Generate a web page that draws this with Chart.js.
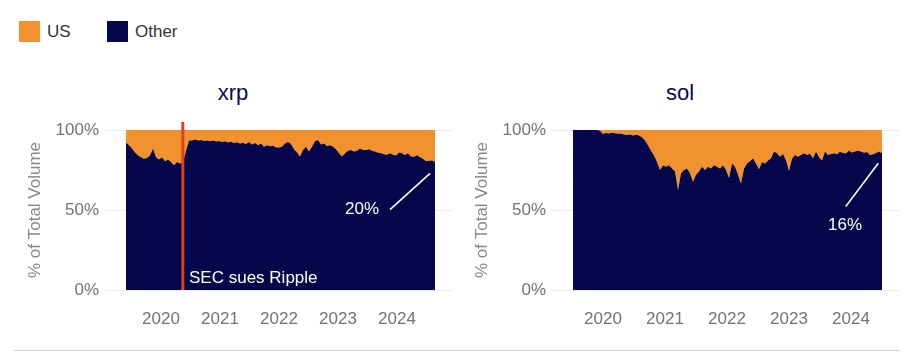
<!DOCTYPE html>
<html><head><meta charset="utf-8">
<script src="https://cdn.jsdelivr.net/npm/chart.js@4"></script>
<style>
html,body{margin:0;padding:0;background:#fff;width:908px;height:356px;overflow:hidden;font-family:"Liberation Sans",Arial,sans-serif;}
.wrap{position:absolute;top:0;width:460px;height:356px;}
#w1{left:0}#w2{left:447px}
.leg{position:absolute;top:21px;width:21px;height:21px}
.legt{position:absolute;top:21px;line-height:21px;font-size:17px;color:#333}
.title{position:absolute;top:80px;line-height:26px;font-size:22px;color:#0b0b4d;transform:translateX(-50%)}
.rule{position:absolute;left:14px;width:886px;top:350px;height:1px;background:#d4d4d4}
</style></head>
<body>
<div class="leg" style="left:19px;background:#F2922F"></div><div class="legt" style="left:47px">US</div>
<div class="leg" style="left:107px;background:#06064B"></div><div class="legt" style="left:135px">Other</div>
<div class="title" style="left:233px">xrp</div>
<div class="title" style="left:680px">sol</div>
<div class="wrap" id="w1"><canvas id="c1" width="460" height="356"></canvas></div>
<div class="wrap" id="w2"><canvas id="c2" width="460" height="356"></canvas></div>
<div class="rule"></div>
<script>
// ---- data (share of total volume, %, "Other" = non-US) ----
const seriesNames = ['US', 'Other'];
const yearTicks = [2020, 2021, 2022, 2023, 2024];
const yTicks = [0, 50, 100];
const xrpRange = [2019.907, 2025.144]; // first / last observation (decimal year)
const solRange = [2020.016, 2025.0];
const xrpOther = [
 92, 90.5, 88.5, 86, 84, 83, 82, 82.5, 84, 88.5,
 83, 81.5, 83, 80.5, 81.5, 80, 78, 80, 79, 80,
 87, 93.5, 93.5, 94, 93.5, 93.8, 93.2, 93.5, 93, 93.4,
 92.8, 93.2, 92.5, 93, 92.2, 92.6, 91.8, 92.4, 91.5, 92,
 91.2, 92.5, 91, 91.8, 90.5, 91.5, 89.5, 90.5, 89.8, 90.2,
 89, 89, 89.6, 91.5, 92.5, 91.2, 88, 86, 83.5, 87.5,
 89.5, 86.5, 89.5, 93, 93.8, 91, 91.5, 90, 90.5, 89.5,
 88, 85.5, 83.5, 85.5, 87, 87.5, 86.5, 87, 88.5, 87.5,
 87.5, 88, 87, 86.5, 85.8, 85.4, 84.8, 84.5, 85.4, 84.5,
 84, 86, 85.5, 84.4, 85.5, 83.5, 83.3, 84.2, 83, 82,
 80.5, 80.8, 81, 80.2
];
const solOther = [
 100, 100, 100, 100, 100, 100, 100, 100, 100, 99.5,
 97.5, 98.2, 97.8, 98.3, 98, 97.6, 97.8, 97.2, 96.8, 97.2,
 96.5, 97, 96.5, 95.5, 93.5, 90.5, 87, 84, 80, 75,
 78, 77, 78, 76, 74, 62.5, 73, 75, 76, 73,
 67.7, 72, 74, 77, 75, 77, 76, 78, 77, 76,
 78, 75, 70, 79, 77, 72, 66.5, 76, 79, 80.5,
 82.3, 79, 75.5, 80, 79, 81, 82.3, 86.5, 85.4, 83.3,
 85, 81, 74.5, 82, 84.4, 83.3, 84.4, 85.4, 84.4, 85.2,
 82.3, 86.5, 83, 81, 86.5, 84.4, 85, 85.4, 84.8, 86.5,
 85.6, 85.5, 87, 86, 86.5, 87, 86.5, 85.8, 86.2, 84.4,
 84.8, 85.6, 86.5, 85.4
];
const xrpEvent = {x: 2020.87, label: 'SEC sues Ripple'};
const xrpLatestUS = '20%';
const solLatestUS = '16%';

// ---- rendering ----
const FONT = '"Liberation Sans", Arial, sans-serif';
const ORANGE = '#F2922F', NAVY = '#06064B';

function xsFor(range, n) {
  const out = [];
  for (let i = 0; i < n; i++) out.push(range[0] + (range[1] - range[0]) * i / (n - 1));
  return out;
}

const annot = {
  id: 'annot',
  afterDatasetsDraw(chart, args, o) {
    const {ctx, scales: {x, y}} = chart;
    ctx.save();
    if (o.vline) {
      const px = x.getPixelForValue(o.vline.x);
      ctx.strokeStyle = '#E2401F'; ctx.lineWidth = 3;
      ctx.beginPath(); ctx.moveTo(px, y.getPixelForValue(0)); ctx.lineTo(px, y.getPixelForValue(105)); ctx.stroke();
      ctx.fillStyle = '#fff'; ctx.font = '17px ' + FONT; ctx.textAlign = 'left'; ctx.textBaseline = 'middle';
      ctx.fillText(o.vline.label, x.getPixelForValue(o.vline.tx), y.getPixelForValue(o.vline.ty));
    }
    if (o.callout) {
      const c = o.callout;
      ctx.strokeStyle = '#fff'; ctx.lineWidth = 1.6;
      ctx.beginPath();
      ctx.moveTo(x.getPixelForValue(c.l[0]), y.getPixelForValue(c.l[1]));
      ctx.lineTo(x.getPixelForValue(c.l[2]), y.getPixelForValue(c.l[3]));
      ctx.stroke();
      ctx.fillStyle = '#fff'; ctx.font = '17px ' + FONT; ctx.textAlign = 'center'; ctx.textBaseline = 'middle';
      ctx.fillText(c.text, x.getPixelForValue(c.t[0]), y.getPixelForValue(c.t[1]));
    }
    ctx.restore();
  }
};

function makeChart(id, range, other, xmin, xmax, annOpts) {
  const xs = xsFor(range, other.length);
  const us = other.map(v => 100 - v);
  const padL = 24.8;
  return new Chart(document.getElementById(id), {
    type: 'line',
    data: {
      datasets: [
        {label: seriesNames[1], data: other.map((v, i) => ({x: xs[i], y: v})), backgroundColor: NAVY, borderColor: NAVY, fill: 'origin', borderWidth: 0, pointRadius: 0},
        {label: seriesNames[0], data: us.map((v, i) => ({x: xs[i], y: v})), backgroundColor: ORANGE, borderColor: ORANGE, fill: '-1', borderWidth: 0, pointRadius: 0}
      ]
    },
    options: {
      animation: false, responsive: false, devicePixelRatio: 1,
      layout: {padding: {left: padL, right: 8, top: 122, bottom: 28}},
      plugins: {legend: {display: false}, tooltip: {enabled: false}, annot: annOpts},
      elements: {line: {tension: 0}},
      scales: {
        x: {
          type: 'linear', min: xmin, max: xmax,
          grid: {display: false}, border: {display: false},
          ticks: {font: {size: 17, family: FONT}, color: '#737373', padding: 3, autoSkip: false, maxRotation: 0,
                  callback: v => String(Math.floor(v))},
          afterBuildTicks: s => { s.ticks = yearTicks.map(yr => ({value: yr + 0.5})); },
          afterFit: s => { s.height = 30; }
        },
        y: {
          stacked: true, min: -5, max: 105,
          grid: {color: '#ececec', drawTicks: false, lineWidth: 1}, border: {display: false},
          ticks: {font: {size: 17, family: FONT}, color: '#737373', padding: 6, callback: v => v + '%'},
          afterBuildTicks: s => { s.ticks = yTicks.map(v => ({value: v})); },
          title: {display: true, text: '% of Total Volume', font: {size: 17, family: FONT}, color: '#888', padding: 0},
          afterFit: s => { s.width = 105 - padL; }
        }
      }
    },
    plugins: [annot]
  });
}

makeChart('c1', xrpRange, xrpOther, 2019.551, 2025.432, {
  vline: {x: xrpEvent.x, label: xrpEvent.label, tx: 2020.975, ty: 7.5},
  callout: {text: xrpLatestUS, t: [2023.907, 50.6], l: [2024.381, 50.2, 2025.06, 72.9]}
});
makeChart('c2', solRange, solOther, 2019.677, 2025.274, {
  callout: {text: solLatestUS, t: [2024.403, 40.6], l: [2024.414, 52.1, 2024.94, 79.2]}
});
</script>
</body></html>
